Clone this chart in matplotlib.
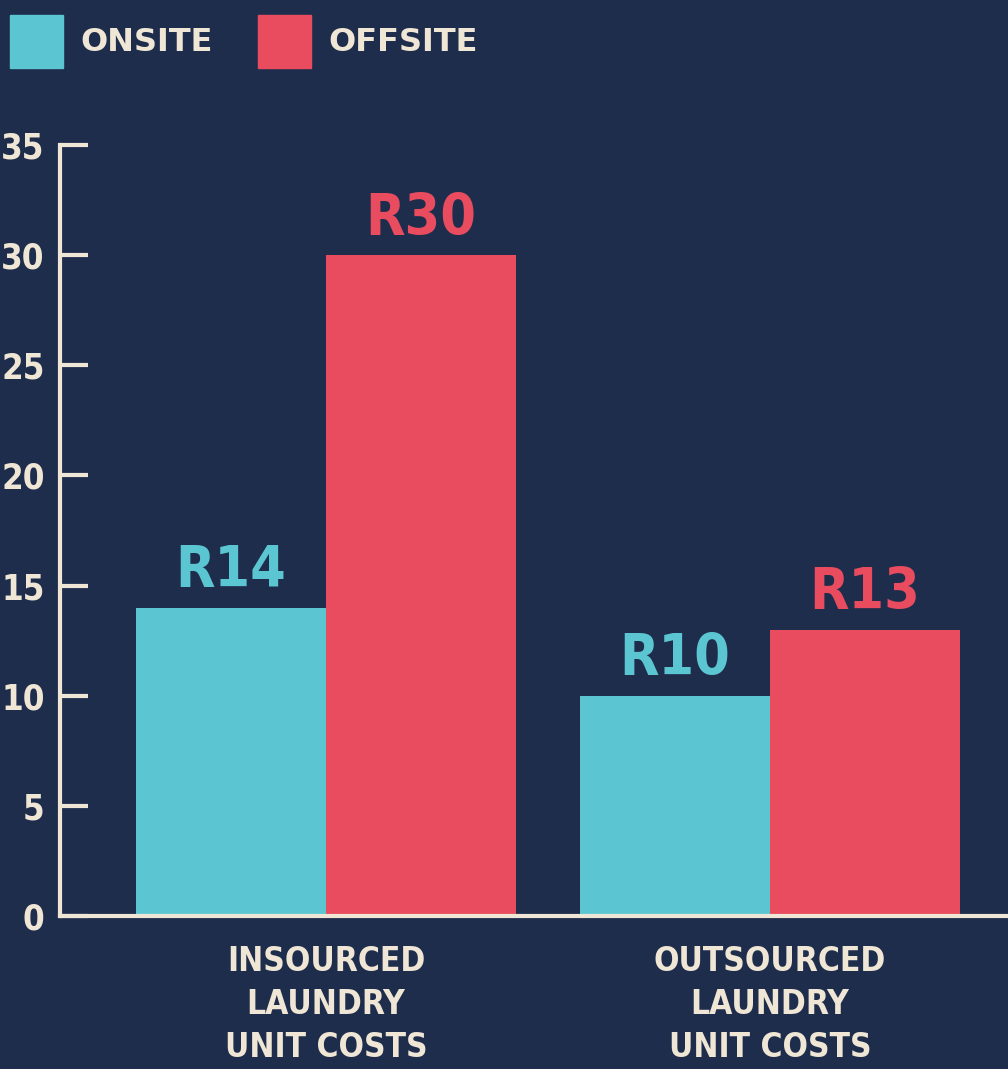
import matplotlib
matplotlib.use("Agg")
import matplotlib.pyplot as plt
from matplotlib.patches import Patch
import numpy as np

# data
groups = ["INSOURCED\nLAUNDRY\nUNIT COSTS", "OUTSOURCED\nLAUNDRY\nUNIT COSTS"]
series = ["ONSITE", "OFFSITE"]
onsite = [14, 10]
offsite = [30, 13]
yticks = [0, 5, 10, 15, 20, 25, 30, 35]

bg = "#1f2d4d"
cyan = "#5bc6d1"
red = "#e84c5e"
cream = "#efe6d5"
narrow = ["Liberation Sans Narrow", "DejaVu Sans"]

fig = plt.figure(figsize=(10.08, 10.69), dpi=100, facecolor=bg)
ax = fig.add_axes([0.0595, 0.1431, 0.9405, 0.7213])
ax.set_facecolor(bg)

x = np.arange(len(groups))
w = 0.428
b1 = ax.bar(x - w / 2, onsite, w, color=cyan, label=series[0])
b2 = ax.bar(x + w / 2, offsite, w, color=red, label=series[1])

# value labels above bars
for bars, vals, col in [(b1, onsite, cyan), (b2, offsite, red)]:
    for rect, v in zip(bars, vals):
        ax.annotate(f"R{v}", (rect.get_x() + rect.get_width() / 2, v),
                    xytext=(0, 6), textcoords="offset points",
                    ha="center", va="bottom", color=col,
                    fontsize=41, fontweight="bold", fontstretch="condensed",
                    family=narrow)

ax.set_xlim(-0.599, 1.536)
ax.set_ylim(0, 35)
ax.set_yticks(yticks)
ax.set_xticks(x)
ax.set_xticklabels(groups, linespacing=1.38)

for s in ["top", "right"]:
    ax.spines[s].set_visible(False)
for s in ["left", "bottom"]:
    ax.spines[s].set_color(cream)
    ax.spines[s].set_linewidth(3)

ax.tick_params(axis="y", direction="in", length=20, width=3, color=cream,
               labelcolor=cream, labelsize=25, pad=11)
ax.tick_params(axis="x", length=0, labelcolor=cream, labelsize=24, pad=21)
for lbl in ax.get_yticklabels() + ax.get_xticklabels():
    lbl.set_family(narrow)
    lbl.set_fontweight("bold")
    lbl.set_fontstretch("condensed")

handles = [Patch(color=cyan), Patch(color=red)]
fig.legend(handles, series, loc="upper left", bbox_to_anchor=(-0.0028, 0.998),
           frameon=False, ncol=2, handlelength=1.66, handleheight=2.18,
           handletextpad=0.55, columnspacing=1.4, borderaxespad=0,
           prop={"family": "DejaVu Sans", "weight": "bold", "size": 23},
           labelcolor=cream)

fig.savefig("out.png", dpi=100, facecolor=bg)
